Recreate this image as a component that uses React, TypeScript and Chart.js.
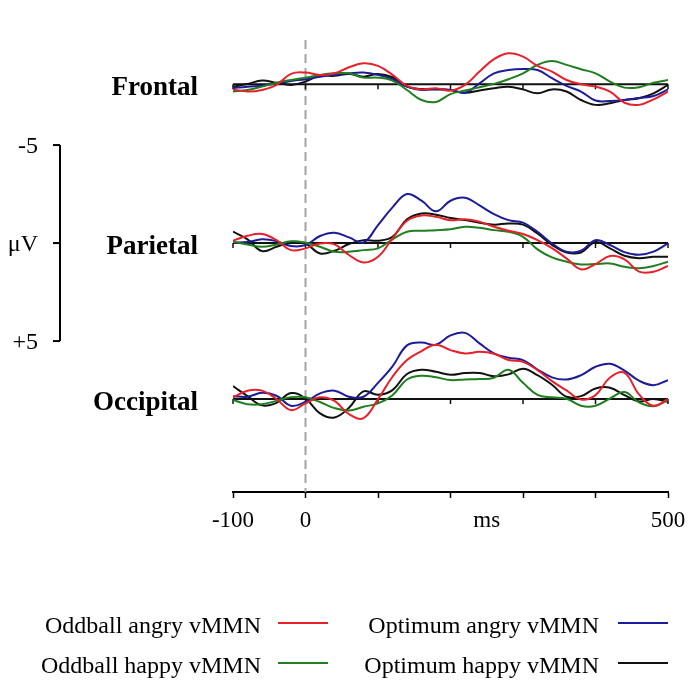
import React, { useEffect, useRef } from 'react';
import { Chart, registerables } from 'chart.js';

Chart.register(...registerables);

// ---------- data ----------
const TIMES_MS = [-100, -80, -60, -40, -20, 0, 20, 40, 60, 80, 100, 120, 140, 160, 180, 200, 220, 240, 260, 280, 300, 320, 340, 360, 380, 400, 420, 440, 460, 480, 500];

// Frontal (µV, negative plotted upward)
const FRONTAL_ODDBALL_ANGRY = [0.26, 0.37, 0.29, 0.03, -0.53, -0.6, -0.48, -0.56, -0.87, -1.07, -0.94, -0.48, 0.08, 0.26, 0.2, 0.32, 0.03, -0.65, -1.28, -1.58, -1.41, -0.94, -0.65, -0.22, 0, 0.12, 0.37, 0.94, 1.05, 0.77, 0.37];
const FRONTAL_ODDBALL_HAPPY = [0.37, 0.29, 0.12, -0.08, -0.22, -0.34, -0.48, -0.56, -0.56, -0.34, -0.34, -0.19, 0.29, 0.8, 0.9, 0.5, 0.32, 0.15, -0.02, -0.26, -0.56, -0.99, -1.19, -0.99, -0.77, -0.56, -0.14, 0.17, 0.15, -0.08, -0.22];
const FRONTAL_OPTIMUM_ANGRY = [0.2, 0.12, 0.07, -0.05, -0.17, -0.26, -0.39, -0.48, -0.56, -0.6, -0.48, -0.26, 0.12, 0.29, 0.24, 0.29, 0.43, -0.05, -0.56, -0.73, -0.78, -0.73, -0.31, 0.08, 0.37, 0.83, 0.85, 0.8, 0.7, 0.6, 0.26];
const FRONTAL_OPTIMUM_HAPPY = [0.12, -0.02, -0.19, -0.08, 0.03, -0.14, -0.46, -0.43, -0.53, -0.39, -0.53, -0.36, 0.12, 0.24, 0.26, 0.29, 0.43, 0.32, 0.2, 0.12, 0.26, 0.46, 0.26, 0.37, 0.8, 1.05, 0.97, 0.8, 0.71, 0.46, 0.03];

// Parietal
const PARIETAL_ODDBALL_ANGRY = [-0.12, -0.37, -0.46, -0.15, 0.36, 0.27, 0.02, 0.07, 0.61, 0.99, 0.7, -0.24, -1.14, -1.41, -1.34, -1.17, -1.22, -1.09, -0.83, -0.63, -0.46, -0.15, 0.26, 0.78, 1.34, 1.07, 0.66, 0.83, 1.46, 1.46, 1.17];
const PARIETAL_ODDBALL_HAPPY = [-0.07, 0.07, 0.19, 0.07, -0.09, -0.02, 0.19, 0.44, 0.44, 0.36, 0.27, -0.19, -0.58, -0.63, -0.66, -0.7, -0.83, -0.78, -0.66, -0.58, -0.32, 0.32, 0.73, 0.95, 1.09, 1.07, 1.04, 1.21, 1.29, 1.17, 0.95];
const PARIETAL_OPTIMUM_ANGRY = [-0.02, -0.05, -0.19, -0.1, 0.15, 0.1, -0.36, -0.53, -0.29, -0.03, -0.92, -1.82, -2.5, -2.16, -1.62, -2.16, -2.31, -1.92, -1.48, -1.17, -1.04, -0.58, 0.02, 0.44, 0.39, -0.15, 0.1, 0.46, 0.6, 0.44, 0.02];
const PARIETAL_OPTIMUM_HAPPY = [-0.58, -0.19, 0.41, 0.19, -0.05, 0.02, 0.53, 0.39, 0.05, -0.15, -0.12, -0.32, -1.21, -1.51, -1.45, -1.28, -1.17, -1.04, -0.94, -1.0, -0.94, -0.49, 0.09, 0.48, 0.48, -0.05, 0.27, 0.65, 0.77, 0.7, 0.7];

// Occipital
const OCCIPITAL_ODDBALL_ANGRY = [-0.09, -0.43, -0.43, 0, 0.56, 0.22, -0.09, 0.09, 0.77, 0.97, 0, -1.14, -1.99, -2.45, -2.77, -2.5, -2.33, -2.41, -2.31, -1.99, -1.9, -1.48, -0.92, -0.44, 0.02, -0.2, -1.1, -1.34, -0.24, 0.34, 0];
const OCCIPITAL_ODDBALL_HAPPY = [0.05, 0.26, 0.26, 0.09, -0.1, -0.09, 0.15, 0.46, 0.58, 0.39, 0.22, -0.2, -1.0, -1.19, -1.11, -0.97, -1.0, -1.02, -1.09, -1.5, -0.83, -0.22, -0.09, -0.02, 0.34, 0.34, -0.03, -0.36, 0.17, 0.36, 0.05];
const OCCIPITAL_OPTIMUM_ANGRY = [-0.15, -0.12, -0.32, -0.17, 0.34, 0.14, -0.29, -0.43, -0.12, -0.12, -0.83, -1.67, -2.74, -2.89, -2.77, -3.25, -3.38, -2.84, -2.33, -2.11, -1.99, -1.51, -1.11, -1.0, -1.22, -1.65, -1.8, -1.45, -0.94, -0.71, -0.97];
const OCCIPITAL_OPTIMUM_HAPPY = [-0.66, -0.15, 0.32, 0.19, -0.31, -0.03, 0.73, 0.94, 0.44, -0.39, -0.22, -0.46, -1.28, -1.5, -1.39, -1.24, -1.33, -1.33, -1.17, -1.26, -1.55, -1.22, -0.73, -0.12, -0.15, -0.54, -0.58, -0.2, 0.12, 0, 0.14];

const SERIES_NAMES = ['Oddball angry vMMN', 'Oddball happy vMMN', 'Optimum angry vMMN', 'Optimum happy vMMN'];
const SERIES_COLORS = ['#e8202a', '#1f7f1f', '#1c1c98', '#111111'];
const REGION_NAMES = ['Frontal', 'Parietal', 'Occipital'];
const REGION_SERIES = [
  [FRONTAL_ODDBALL_ANGRY, FRONTAL_ODDBALL_HAPPY, FRONTAL_OPTIMUM_ANGRY, FRONTAL_OPTIMUM_HAPPY],
  [PARIETAL_ODDBALL_ANGRY, PARIETAL_ODDBALL_HAPPY, PARIETAL_OPTIMUM_ANGRY, PARIETAL_OPTIMUM_HAPPY],
  [OCCIPITAL_ODDBALL_ANGRY, OCCIPITAL_ODDBALL_HAPPY, OCCIPITAL_OPTIMUM_ANGRY, OCCIPITAL_OPTIMUM_HAPPY],
];

const X_MIN = -100;
const X_MAX = 500;
const ONSET_MS = 0;
const X_TICKS = [-100, 0, 100, 200, 250, 300, 400, 500];
const X_TICK_LABELS = ['-100', '0', '', '', 'ms', '', '', '500'];
const BASELINE_TICKS = [-100, 0, 100, 200, 300, 400, 500];
const SCALE_BAR_VALUES = [-5, 0, 5];
const SCALE_BAR_LABELS = ['-5', 'μV', '+5'];

// ---------- layout (not data) ----------
const REGION_ZERO = [-8.1, 0, 7.96]; // vertical placement of each region's zero line, in µV of the shared frame
const FRAME_MIN = -10.36;
const FRAME_MAX = 12.7;
const SERIF = '"Liberation Serif", "Times New Roman", serif';

const decorPlugin = {
  id: 'erpDecor',
  beforeDatasetsDraw(chart: any) {
    const { ctx, chartArea, scales } = chart;
    const xs = scales.x;
    ctx.save();
    // stimulus onset dashed line
    const x0 = xs.getPixelForValue(ONSET_MS);
    ctx.strokeStyle = '#a3a3a3';
    ctx.lineWidth = 2;
    ctx.setLineDash([9, 5]);
    ctx.beginPath();
    ctx.moveTo(x0, chartArea.top);
    ctx.lineTo(x0, chartArea.bottom);
    ctx.stroke();
    ctx.setLineDash([]);
    // region zero lines with ticks
    REGION_NAMES.forEach((_, r) => {
      const ys = scales['y' + r];
      const y0 = ys.getPixelForValue(0);
      ctx.strokeStyle = '#111';
      ctx.lineWidth = 2;
      ctx.beginPath();
      ctx.moveTo(xs.getPixelForValue(X_MIN), y0);
      ctx.lineTo(xs.getPixelForValue(X_MAX), y0);
      ctx.stroke();
      ctx.lineWidth = 1.5;
      BASELINE_TICKS.forEach((t) => {
        const px = xs.getPixelForValue(t);
        ctx.beginPath();
        ctx.moveTo(px, y0);
        ctx.lineTo(px, y0 + 5);
        ctx.stroke();
      });
    });
    ctx.restore();
  },
  afterDraw(chart: any) {
    const { ctx, scales } = chart;
    ctx.save();
    ctx.fillStyle = '#000';
    // region labels
    ctx.font = `bold 27px ${SERIF}`;
    ctx.textAlign = 'right';
    ctx.textBaseline = 'alphabetic';
    REGION_NAMES.forEach((name, r) => {
      const y0 = scales['y' + r].getPixelForValue(0);
      ctx.fillText(name, 198, y0 + 11);
    });
    // amplitude scale bar (uses parietal scale)
    const yp = scales.y1;
    const barX = 60;
    ctx.strokeStyle = '#000';
    ctx.lineWidth = 2;
    ctx.beginPath();
    ctx.moveTo(barX, yp.getPixelForValue(SCALE_BAR_VALUES[0]));
    ctx.lineTo(barX, yp.getPixelForValue(SCALE_BAR_VALUES[SCALE_BAR_VALUES.length - 1]));
    ctx.stroke();
    ctx.font = `24px ${SERIF}`;
    ctx.textAlign = 'right';
    ctx.textBaseline = 'middle';
    SCALE_BAR_VALUES.forEach((v, i) => {
      const py = yp.getPixelForValue(v);
      ctx.beginPath();
      ctx.moveTo(barX - 7, py);
      ctx.lineTo(barX, py);
      ctx.stroke();
      ctx.fillText(SCALE_BAR_LABELS[i], 38, py + 2);
    });
    // legend
    const cols = [{ textRight: 261, lineStart: 278 }, { textRight: 599, lineStart: 618 }];
    const rows = [633, 673];
    const order = [0, 2, 1, 3];
    ctx.font = `24px ${SERIF}`;
    ctx.textBaseline = 'alphabetic';
    order.forEach((s, k) => {
      const col = cols[k % 2];
      const rowY = rows[Math.floor(k / 2)];
      ctx.fillStyle = '#000';
      ctx.textAlign = 'right';
      ctx.fillText(SERIES_NAMES[s], col.textRight, rowY);
      ctx.strokeStyle = SERIES_COLORS[s];
      ctx.lineWidth = 2;
      ctx.beginPath();
      ctx.moveTo(col.lineStart, rowY - 10);
      ctx.lineTo(col.lineStart + 50, rowY - 10);
      ctx.stroke();
    });
    ctx.restore();
  },
};

export default function App() {
  const canvasRef = useRef<HTMLCanvasElement | null>(null);

  useEffect(() => {
    if (!canvasRef.current) return;
    const datasets: any[] = [];
    REGION_SERIES.forEach((seriesList, r) => {
      seriesList.forEach((vals, s) => {
        datasets.push({
          label: `${REGION_NAMES[r]} ${SERIES_NAMES[s]}`,
          data: TIMES_MS.map((t, i) => ({ x: t, y: vals[i] })),
          yAxisID: 'y' + r,
          borderColor: SERIES_COLORS[s],
          borderWidth: 2,
          pointRadius: 0,
          tension: 0.4,
          fill: false,
        });
      });
    });

    const yScales: any = {};
    REGION_NAMES.forEach((_, r) => {
      yScales['y' + r] = {
        type: 'linear',
        display: false,
        reverse: true,
        min: FRAME_MIN - REGION_ZERO[r],
        max: FRAME_MAX - REGION_ZERO[r],
      };
    });

    const chart = new Chart(canvasRef.current, {
      type: 'line',
      data: { datasets },
      options: {
        animation: false,
        responsive: false,
        events: [],
        layout: { padding: { left: 233, right: 32, top: 40, bottom: 0 } },
        plugins: { legend: { display: false }, tooltip: { enabled: false } },
        scales: {
          x: {
            type: 'linear',
            position: 'bottom',
            min: X_MIN,
            max: X_MAX,
            afterBuildTicks: (scale: any) => {
              scale.ticks = X_TICKS.map((v) => ({ value: v }));
            },
            afterFit: (scale: any) => {
              scale.height = 196;
            },
            ticks: {
              autoSkip: false,
              maxRotation: 0,
              padding: 9,
              color: '#000',
              font: { family: SERIF, size: 23 },
              callback: (v: any) => {
                const i = X_TICKS.indexOf(Number(v));
                return i >= 0 ? X_TICK_LABELS[i] : '';
              },
            },
            grid: {
              drawOnChartArea: false,
              drawTicks: true,
              tickLength: 6,
              tickWidth: 1.5,
              tickColor: (c: any) => (c.tick && c.tick.value === 250 ? 'rgba(0,0,0,0)' : '#000'),
            },
            border: { display: true, color: '#000', width: 2 },
          },
          ...yScales,
        },
      } as any,
      plugins: [decorPlugin],
    });
    return () => chart.destroy();
  }, []);

  return (
    <div style={{ position: 'absolute', left: 0, top: 0, width: 700, height: 688, background: '#fff' }}>
      <canvas ref={canvasRef} width={700} height={688} style={{ display: 'block' }} />
    </div>
  );
}
